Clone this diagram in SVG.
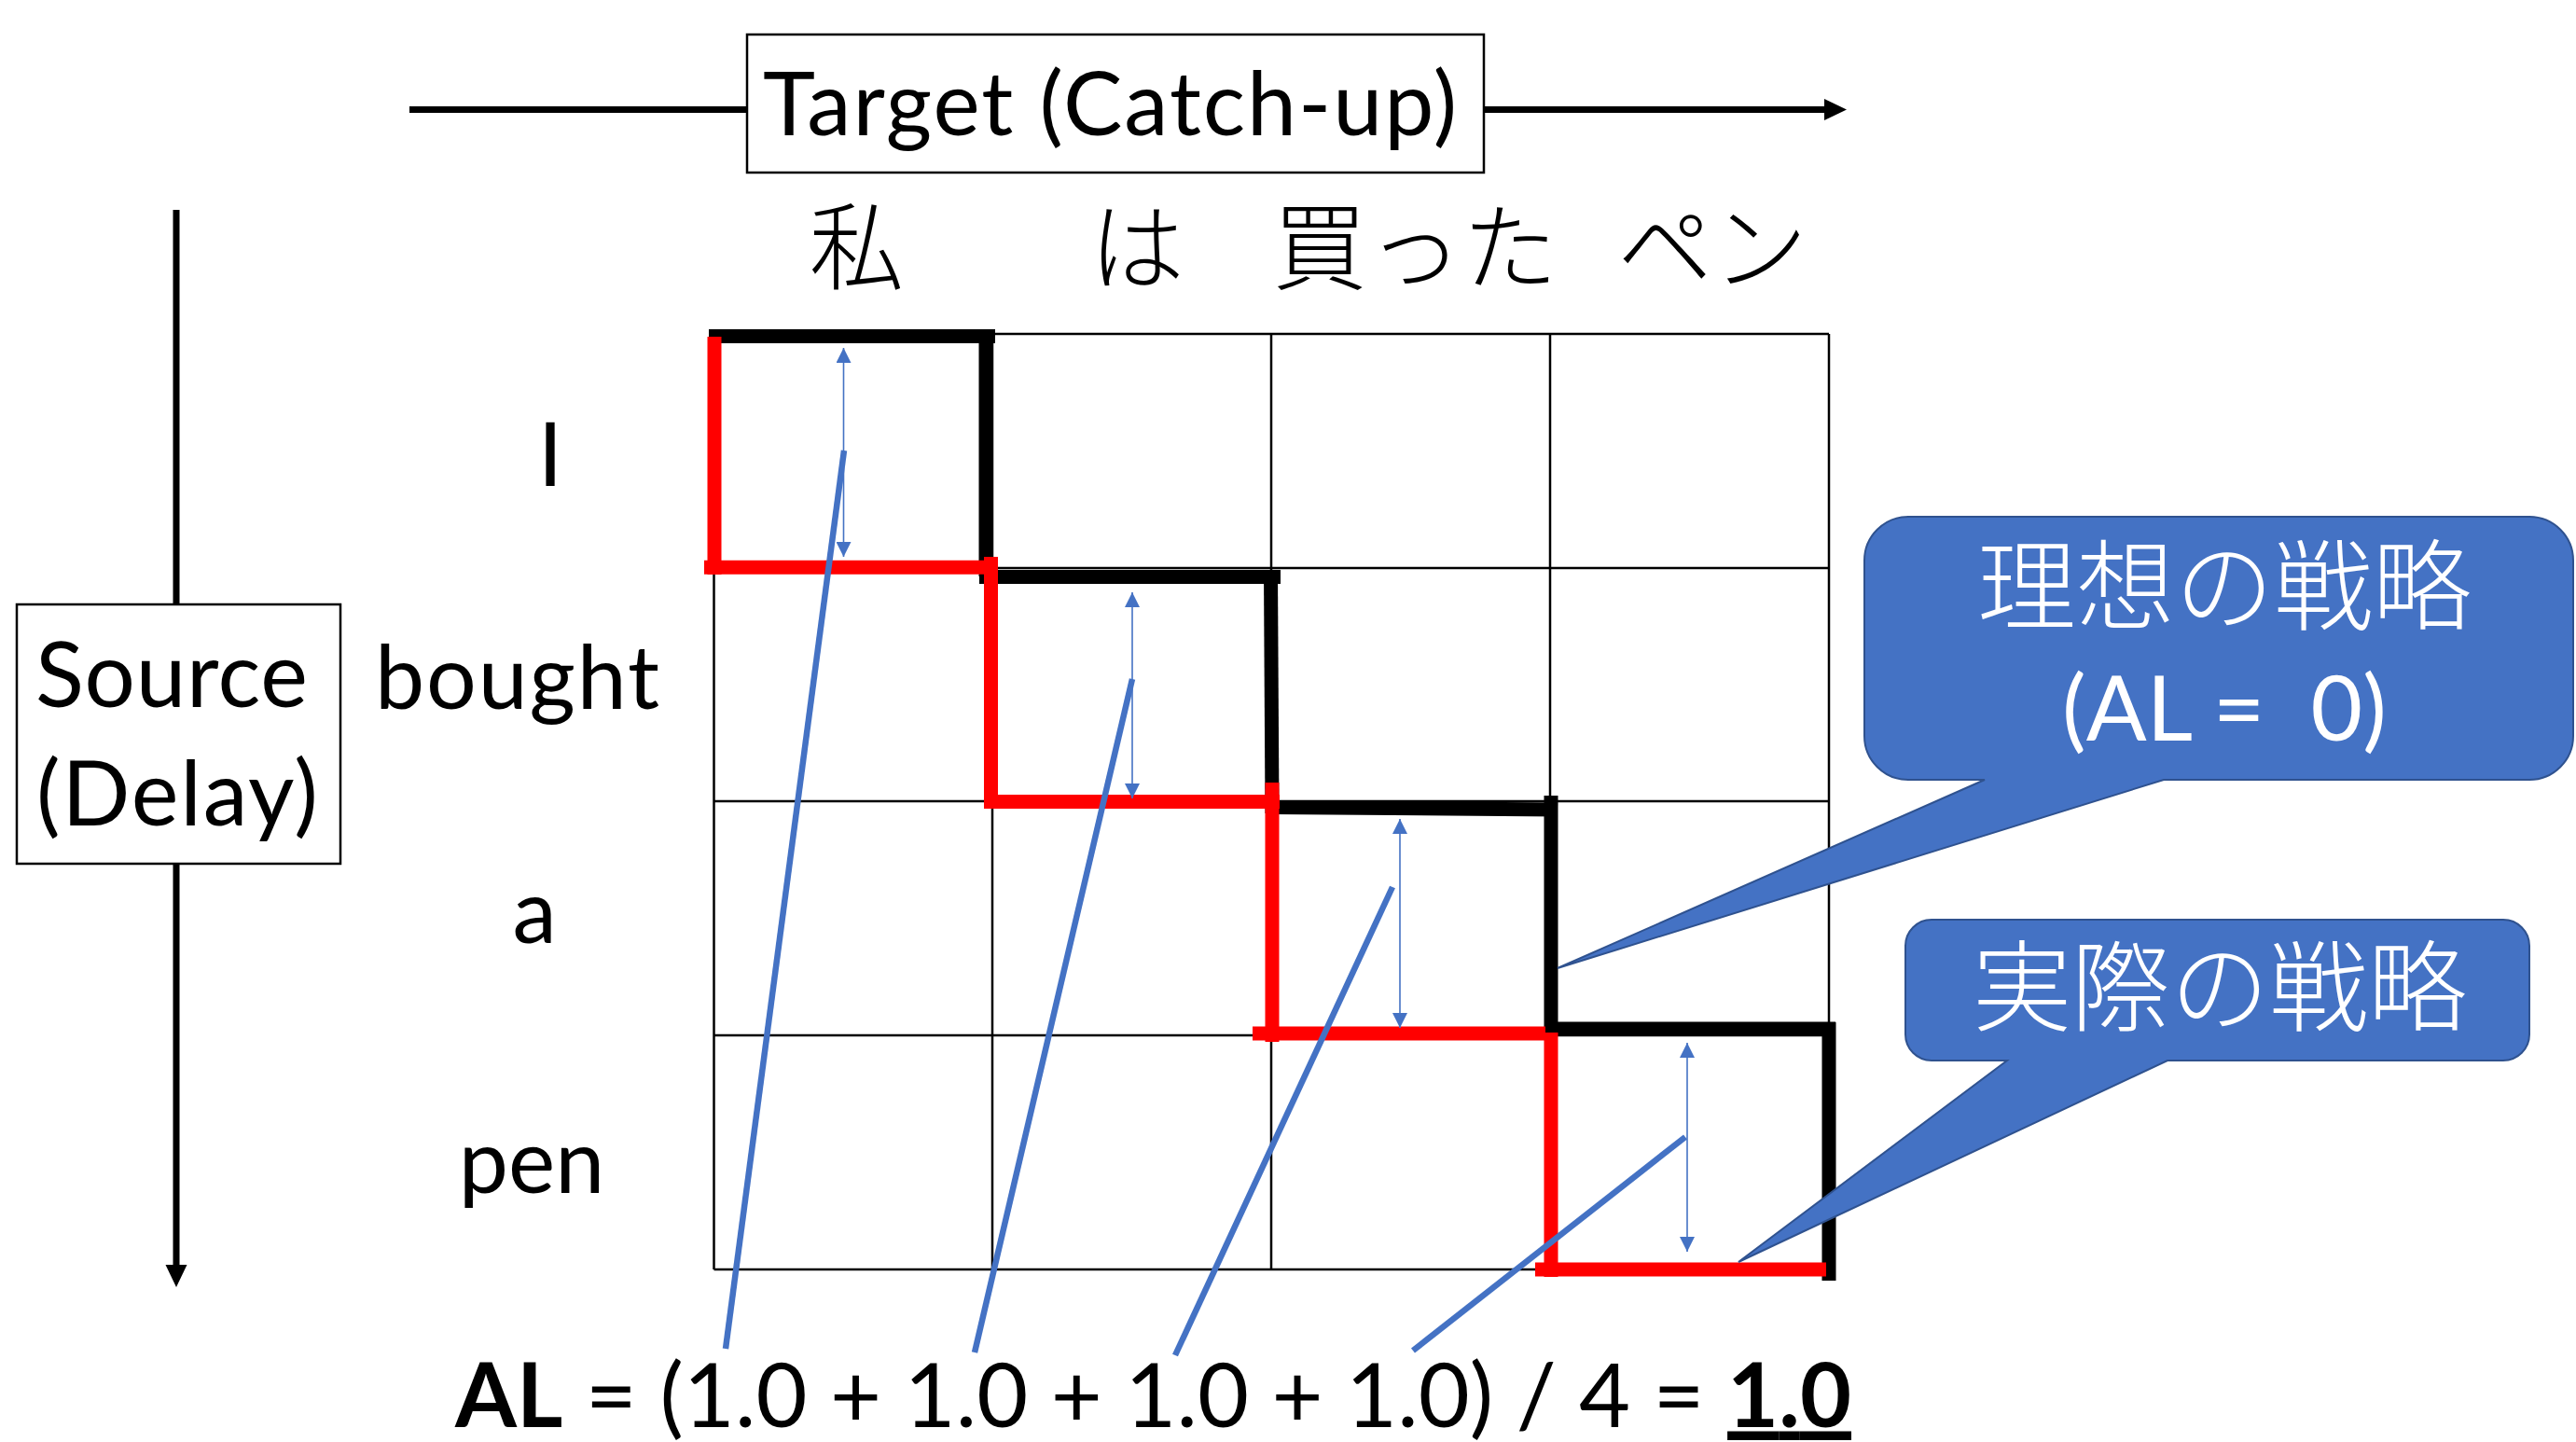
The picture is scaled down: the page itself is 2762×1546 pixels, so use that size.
<svg xmlns="http://www.w3.org/2000/svg" width="2762" height="1546" viewBox="0 0 2762 1546">
  <style>
    .lat { font-family: Lato, "Liberation Sans", "Noto Sans CJK JP", sans-serif; fill: #000; }
    .jp { font-family: "Noto Sans CJK JP", "Noto Sans", sans-serif; font-weight: 300; fill: #000; }
    .wjp { font-family: "Noto Sans CJK JP", "Noto Sans", sans-serif; font-weight: 300; fill: #fff; }
    .wlat { font-family: Lato, "Liberation Sans", sans-serif; fill: #fff; }
    .grid line { stroke: #000; stroke-width: 2.5; }
    .blk line { stroke: #000; stroke-width: 15; stroke-linecap: butt; }
    .red line { stroke: #ff0000; stroke-width: 15; stroke-linecap: butt; }
    .lead { stroke: #4472c4; stroke-width: 6.5; stroke-linecap: butt; }
    .dbl { stroke: #4472c4; stroke-width: 1.6; marker-start: url(#bh); marker-end: url(#bh); }
    .axis { stroke: #000; stroke-width: 7; marker-end: url(#ah); }
    .box { fill: #fff; stroke: #000; stroke-width: 2.5; }
    .callout { fill: #4472c4; stroke: #2f528f; stroke-width: 2; }
  </style>
  <defs>
    <marker id="ah" markerUnits="userSpaceOnUse" markerWidth="24" markerHeight="24" viewBox="0 0 24 24" refX="0" refY="12" orient="auto">
      <path d="M0,0.5 L24,12 L0,23.5 Z" fill="#000"/>
    </marker>
    <marker id="bh" markerUnits="userSpaceOnUse" markerWidth="16" markerHeight="16" viewBox="0 0 16 16" refX="16" refY="8" orient="auto-start-reverse">
      <path d="M0,0 L16,8 L0,16 Z" fill="#4472c4"/>
    </marker>
  </defs>
  <rect width="2762" height="1546" fill="#fff"/>

  <!-- axes -->
  <g id="connectors">
    <line class="axis" x1="439" y1="117.5" x2="1956" y2="117.5"/>
    <line class="axis" x1="189" y1="225" x2="189" y2="1356"/>
  </g>

  <g id="target-label">
    <rect class="box" x="801" y="37" width="790" height="148"/>
    <text class="lat" x="818" y="145" font-size="95" textLength="744">Target (Catch-up)</text>
  </g>

  <g id="source-label">
    <rect class="box" x="18" y="648" width="347" height="278"/>
    <text class="lat" x="38" y="757.5" font-size="96" textLength="292">Source</text>
    <text class="lat" x="39" y="884.5" font-size="96" textLength="302">(Delay)</text>
  </g>

  <g id="target-words">
    <text class="jp" x="918.5" y="303" font-size="102" text-anchor="middle">私</text>
    <text class="jp" x="1219" y="303" font-size="102" text-anchor="middle">は</text>
    <text class="jp" x="1517" y="303" font-size="102" text-anchor="middle">買った</text>
    <text class="jp" x="1836" y="303" font-size="102" text-anchor="middle">ペン</text>
  </g>

  <g id="source-words">
    <text class="lat" x="590" y="521" font-size="95" text-anchor="middle">I</text>
    <text class="lat" x="402" y="760" font-size="95" textLength="305">bought</text>
    <text class="lat" x="573" y="1011" font-size="95" text-anchor="middle">a</text>
    <text class="lat" x="570" y="1279" font-size="95" text-anchor="middle">pen</text>
  </g>

  <g id="grid" class="grid">
    <line x1="765.5" y1="358" x2="765.5" y2="1361"/>
    <line x1="1064" y1="358" x2="1064" y2="1361"/>
    <line x1="1363" y1="358" x2="1363" y2="1361"/>
    <line x1="1662" y1="358" x2="1662" y2="1361"/>
    <line x1="1961" y1="358" x2="1961" y2="1361"/>
    <line x1="765.5" y1="358" x2="1961" y2="358"/>
    <line x1="765.5" y1="609" x2="1961" y2="609"/>
    <line x1="765.5" y1="859" x2="1961" y2="859"/>
    <line x1="765.5" y1="1110" x2="1961" y2="1110"/>
    <line x1="765.5" y1="1361" x2="1961" y2="1361"/>
  </g>

  <g id="ideal-path" class="blk">
    <line x1="760" y1="360.5" x2="1067" y2="360.5"/>
    <line x1="1057" y1="353" x2="1057" y2="618"/>
    <line x1="1050" y1="618.5" x2="1373" y2="618.5"/>
    <line x1="1362.5" y1="611" x2="1364" y2="872"/>
    <line x1="1363" y1="865.5" x2="1670" y2="868"/>
    <line x1="1663" y1="853" x2="1663" y2="1110"/>
    <line x1="1656" y1="1103" x2="1968" y2="1103"/>
    <line x1="1961" y1="1096" x2="1961" y2="1373"/>
  </g>

  <g id="actual-path" class="red">
    <line x1="766" y1="361" x2="766" y2="616"/>
    <line x1="755" y1="608.3" x2="1070" y2="608.3"/>
    <line x1="1062.5" y1="597" x2="1062.5" y2="867"/>
    <line x1="1055" y1="859.5" x2="1372" y2="859.5"/>
    <line x1="1364" y1="839" x2="1364" y2="1117"/>
    <line x1="1343" y1="1108" x2="1657" y2="1108"/>
    <line x1="1663" y1="1107" x2="1663" y2="1369"/>
    <line x1="1646" y1="1361" x2="1958" y2="1361"/>
  </g>

  <g id="lag-arrows">
    <line class="dbl" x1="904.5" y1="373" x2="904.5" y2="597"/>
    <line class="dbl" x1="1214" y1="635" x2="1214" y2="856"/>
    <line class="dbl" x1="1501" y1="878" x2="1501" y2="1102"/>
    <line class="dbl" x1="1809" y1="1118" x2="1809" y2="1342"/>
  </g>

  <g id="leaders">
    <line class="lead" x1="905" y1="483" x2="778" y2="1446"/>
    <line class="lead" x1="1214" y1="728" x2="1045" y2="1450"/>
    <line class="lead" x1="1493" y1="951" x2="1260" y2="1453"/>
    <line class="lead" x1="1807" y1="1219" x2="1515" y2="1448"/>
  </g>

  <g id="callout-ideal">
    <path class="callout" d="M2046,554 H2712 A47,47 0 0 1 2759,601 V789 A47,47 0 0 1 2712,836 H2320 L1670,1038 L2128,836 H2046 A47,47 0 0 1 1999,789 V601 A47,47 0 0 1 2046,554 Z"/>
    <text class="wjp" x="2385" y="667" font-size="106" text-anchor="middle">理想の戦略</text>
    <text class="wlat" x="2385" y="793.5" font-size="96" text-anchor="middle" xml:space="preserve">(AL =  0)</text>
  </g>

  <g id="callout-actual">
    <path class="callout" d="M2071,986 H2684 A28,28 0 0 1 2712,1014 V1109 A28,28 0 0 1 2684,1137 H2324 L1864,1353 L2152,1137 H2071 A28,28 0 0 1 2043,1109 V1014 A28,28 0 0 1 2071,986 Z"/>
    <text class="wjp" x="2380" y="1097" font-size="106" text-anchor="middle">実際の戦略</text>
  </g>

  <g id="formula">
    <text class="lat" x="488" y="1529.5" font-size="95" textLength="1497" xml:space="preserve"><tspan font-weight="bold">AL</tspan> = (1.0 + 1.0 + 1.0 + 1.0) / 4 = <tspan font-weight="bold" text-decoration="underline">1.0</tspan></text>
  </g>
</svg>
